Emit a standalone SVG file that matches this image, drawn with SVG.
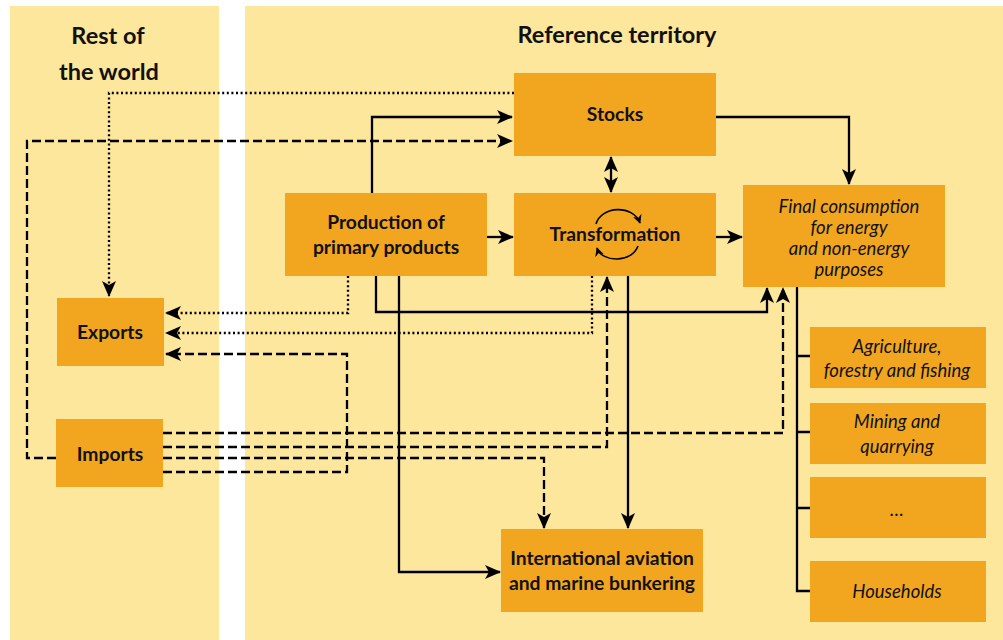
<svg xmlns="http://www.w3.org/2000/svg" width="1003" height="640" viewBox="0 0 1003 640">
<style>
.panel{fill:#FDE79C}
.box{fill:#F2A620}
.t{font-family:Lato,"Open Sans","Liberation Sans",sans-serif;fill:#111;text-anchor:middle}
.b{font-weight:bold;font-size:19.3px}
.i{font-style:italic;font-size:18.5px}
.h{font-weight:bold;font-size:23.5px}
.ln{fill:none;stroke:#000;stroke-width:2.3}
.dash{stroke-dasharray:9 4}
.dot{stroke-dasharray:2 2.6}
</style>
<defs>
<marker id="ah" viewBox="0 0 16 14" markerWidth="16" markerHeight="14" refX="15" refY="7" orient="auto-start-reverse" markerUnits="userSpaceOnUse">
<path d="M0,0 L16,7 L0,14 L4,7 z" fill="#000"/>
</marker>
<marker id="sh" viewBox="0 0 10 10" markerWidth="9" markerHeight="9" refX="9" refY="5" orient="auto" markerUnits="userSpaceOnUse">
<path d="M0,0 L10,5 L0,10 L3,5 z" fill="#000"/>
</marker>
</defs>
<rect width="1003" height="640" fill="#fff"/>
<rect class="panel" x="10" y="6" width="209" height="634"/>
<rect class="panel" x="245" y="6" width="758" height="634"/>
<text class="t h" x="108" y="44">Rest of</text>
<text class="t h" x="109" y="80">the world</text>
<text class="t h" x="617" y="43">Reference territory</text>

<g id="connectors">
<path class="ln dot" d="M514,93 H109 V296" marker-end="url(#ah)"/>
<path class="ln dash" d="M56,458 H27 V141 H512" marker-end="url(#ah)"/>
<path class="ln" d="M372,193 V117 H512" marker-end="url(#ah)"/>
<path class="ln" d="M716,117 H849 V184" marker-end="url(#ah)"/>
<path class="ln" d="M611,157 V192" marker-start="url(#ah)" marker-end="url(#ah)"/>
<path class="ln" d="M487,237 H513" marker-end="url(#ah)"/>
<path class="ln" d="M716,237 H742" marker-end="url(#ah)"/>
<path class="ln" d="M376,276 V312 H767 V288" marker-end="url(#ah)"/>
<path class="ln" d="M399,276 V572 H500" marker-end="url(#ah)"/>
<path class="ln dot" d="M348,276 V313 H166" marker-end="url(#ah)"/>
<path class="ln dot" d="M592,276 V333 H166" marker-end="url(#ah)"/>
<path class="ln dash" d="M163,472 H347 V354 H166" marker-end="url(#ah)"/>
<path class="ln dash" d="M163,433 H783 V288" marker-end="url(#ah)"/>
<path class="ln dash" d="M163,447 H607 V277" marker-end="url(#ah)"/>
<path class="ln dash" d="M163,458 H544 V528" marker-end="url(#ah)"/>
<path class="ln" d="M628,276 V528" marker-end="url(#ah)"/>
<path class="ln" d="M797,287 V591 H810 M797,356 H810 M797,432 H810 M797,508 H810"/>
</g>

<g id="stocks">
<rect class="box" x="514" y="73" width="202" height="83"/>
<text class="t b" x="615" y="121">Stocks</text>
</g>
<g id="transformation">
<rect class="box" x="514" y="193" width="202" height="83"/>
<text class="t b" x="615" y="241">Transformation</text>
<path d="M596,224 C601,206 633,204 640,223" fill="none" stroke="#000" stroke-width="1.6" marker-end="url(#sh)"/>
<path d="M638,246 C632,263 602,263 597,248" fill="none" stroke="#000" stroke-width="1.6" marker-end="url(#sh)"/>
</g>
<g id="production">
<rect class="box" x="285" y="193" width="202" height="83"/>
<text class="t b" x="386" y="229">Production of</text>
<text class="t b" x="386" y="254">primary products</text>
</g>
<g id="final">
<rect class="box" x="743" y="185" width="202" height="102"/>
<text class="t i" x="849" y="213">Final consumption</text>
<text class="t i" x="849" y="234">for energy</text>
<text class="t i" x="849" y="255">and non-energy</text>
<text class="t i" x="849" y="276">purposes</text>
</g>
<g id="exports">
<rect class="box" x="57" y="298" width="107" height="68"/>
<text class="t b" x="110" y="339">Exports</text>
</g>
<g id="imports">
<rect class="box" x="56" y="419" width="107" height="68"/>
<text class="t b" x="110" y="461">Imports</text>
</g>
<g id="aviation">
<rect class="box" x="501" y="529" width="202" height="83"/>
<text class="t b" x="602" y="565">International aviation</text>
<text class="t b" x="602" y="590">and marine bunkering</text>
</g>
<g id="agriculture">
<rect class="box" x="810" y="327" width="176" height="61"/>
<text class="t i" x="897" y="353">Agriculture,</text>
<text class="t i" x="897" y="377">forestry and fishing</text>
</g>
<g id="mining">
<rect class="box" x="810" y="403" width="176" height="61"/>
<text class="t i" x="897" y="428">Mining and</text>
<text class="t i" x="897" y="453">quarrying</text>
</g>
<g id="other">
<rect class="box" x="810" y="477" width="176" height="61"/>
<text class="t i" x="897" y="516">…</text>
</g>
<g id="households">
<rect class="box" x="810" y="561" width="176" height="61"/>
<text class="t i" x="897" y="598">Households</text>
</g>
</svg>
